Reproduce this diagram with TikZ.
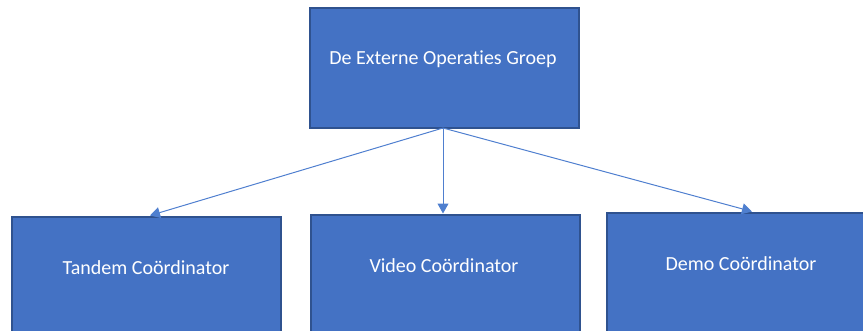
\documentclass[tikz,border=0pt]{standalone}
\usepackage{fontspec}
\setmainfont[Ligatures={NoCommon}]{Carlito}
\usetikzlibrary{arrows.meta}
\definecolor{boxfill}{HTML}{4472C4}
\definecolor{boxline}{HTML}{2F528F}
\definecolor{conn}{HTML}{4F7FCF}
\tikzset{
  box/.style={draw=boxline, fill=boxfill, line width=1.5pt, inner sep=0pt},
  lbl/.style={text=white, font=\fontsize{20}{22}\selectfont, inner sep=0pt},
  conn/.style={draw=conn, line width=1pt, -{Triangle[width=11pt,length=10pt]}}
}
\begin{document}
\begin{tikzpicture}[x=1pt,y=-1pt]
\useasboundingbox (0,0) rectangle (863,330);
\begin{scope}
\clip (0,0) rectangle (863,330);
\node[box, minimum width=269pt, minimum height=120pt, anchor=north west] (top) at (309,7) {};
\node[box, minimum width=269pt, minimum height=130pt, anchor=north west] (tandem) at (11,216) {};
\node[box, minimum width=269pt, minimum height=130pt, anchor=north west] (video) at (310,214) {};
\node[box, minimum width=269pt, minimum height=130pt, anchor=north west] (demo) at (606,212) {};
\node[lbl] (ttop) at (443,59) {De Externe Operaties Groep};
\node[lbl] (ttandem) at (146,268) {Tandem Coördinator};
\node[lbl] (tvideo) at (444,266) {Video Coördinator};
\node[lbl] (tdemo) at (741,264) {Demo Coördinator};
\coordinate (src) at (443,128);
\coordinate (endT) at (150,215.5);
\coordinate (endV) at (443,213.5);
\coordinate (endD) at (752,211.5);
\draw[conn] (src) -- (endT);
\draw[conn] (src) -- (endV);
\draw[conn] (src) -- (endD);
\end{scope}
\end{tikzpicture}
\end{document}
